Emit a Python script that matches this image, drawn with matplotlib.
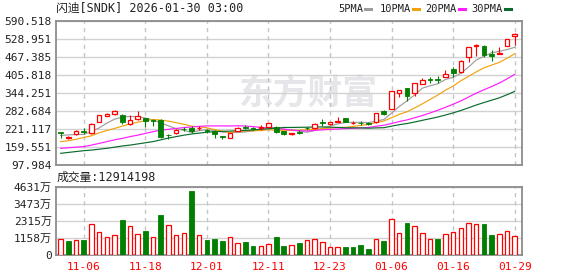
import matplotlib
matplotlib.use("Agg")
import matplotlib.pyplot as plt
from matplotlib.lines import Line2D
import numpy as np

plt.rcParams['font.family'] = ['DejaVu Sans Mono', 'Noto Sans CJK SC']

# ---------------- data ----------------
dates = ['11-03', '11-04', '11-05', '11-06', '11-07', '11-10', '11-11', '11-12', '11-13', '11-14',
         '11-17', '11-18', '11-19', '11-20', '11-21', '11-24', '11-25', '11-26', '11-28', '12-01',
         '12-02', '12-03', '12-04', '12-05', '12-08', '12-09', '12-10', '12-11', '12-12', '12-15',
         '12-16', '12-17', '12-18', '12-19', '12-22', '12-23', '12-24', '12-26', '12-29', '12-30',
         '12-31', '01-02', '01-05', '01-06', '01-07', '01-08', '01-09', '01-12', '01-13', '01-14',
         '01-15', '01-16', '01-20', '01-21', '01-22', '01-23', '01-26', '01-27', '01-28', '01-29']

opens = [209, 190, 203, 213, 206, 246, 266, 272, 269, 237,
         254, 258, 252, 252, 202, 206, 222, 226, 223, 218,
         214, 196, 192, 214, 229, 224, 226, 229, 229, 214,
         203, 212, 225, 224, 246, 238, 246, 258, 240, 242,
         241, 245, 282, 291, 343, 361, 343, 376, 392, 391,
         400, 428, 415, 466, 505, 505, 478, 479, 505, 539]
highs = [210, 196, 216, 223, 240, 270, 277, 285, 274, 269,
         283, 260, 254, 254, 204, 220, 229, 231, 233, 220,
         216, 197, 207, 227, 236, 227, 235, 242, 233, 215,
         209, 216, 229, 240, 256, 245, 263, 260, 249, 248,
         244, 277, 286, 351, 356, 362, 379, 396, 399, 402,
         422, 432, 457, 502, 512, 508, 491, 503, 530, 548]
lows = [189, 187, 201, 205, 205, 245, 264, 270, 237, 235,
        252, 229, 231, 191, 186, 204, 214, 208, 216, 208,
        191, 187, 189, 213, 222, 218, 217, 228, 208, 202,
        201, 203, 216, 222, 230, 236, 245, 245, 238, 235,
        236, 243, 268, 289, 332, 318, 335, 374, 380, 380,
        398, 400, 413, 451, 471, 468, 455, 477, 504, 508]
closes = [208, 192, 214, 211, 238, 269, 274, 282, 244, 251,
          267, 248, 250, 195, 200, 218, 220, 215, 225, 214,
          205, 195, 206, 226, 224, 221, 228, 240, 210, 203,
          208, 207, 223, 238, 241, 244, 248, 246, 241, 240,
          239, 276, 272, 350, 354, 335, 377, 388, 390, 389,
          409, 414, 454, 500, 508, 474, 472, 481, 529, 546]
# volume in units of 万 (10k shares)
volumes = [1062, 949, 1017, 1017, 2079, 1537, 1198, 1333, 2373, 1944,
           1401, 1627, 1198, 2712, 2011, 1333, 1492, 4339, 1333, 1017,
           1085, 949, 1198, 814, 881, 610, 610, 723, 1198, 610,
           678, 814, 1017, 1062, 859, 520, 520, 520, 520, 655,
           407, 1062, 949, 2418, 1469, 2170, 1944, 1469, 1062, 1062,
           1401, 1537, 1808, 2147, 2079, 2102, 1333, 1401, 1605, 1291]

ma5 = [199, 201, 202, 203, 212.6, 224.8, 241.2, 254.8, 261.4, 264,
       263.6, 258.4, 252, 242.2, 232, 222.2, 216.6, 209.6, 215.6, 218.4,
       215.8, 210.8, 209, 209.2, 211.2, 214.4, 221, 227.8, 224.6, 220.4,
       217.8, 213.6, 210.2, 215.8, 223.4, 230.6, 238.8, 243.4, 244, 243.8,
       242.8, 248.4, 253.6, 275.4, 298.2, 317.4, 337.6, 360.8, 368.8, 375.8,
       390.6, 398, 411.2, 433.2, 457, 470, 481.6, 487, 492.8, 500.4]
ma10 = [178, 181, 186, 192, 198, 208, 216, 223, 231, 238.3,
        244.2, 249.8, 253.4, 251.8, 248, 242.9, 237.5, 230.8, 228.9, 225.2,
        219, 213.7, 209.3, 212.4, 214.8, 215.1, 215.9, 218.4, 216.9, 215.8,
        216.1, 217.3, 219, 220.2, 221.9, 224.2, 226.2, 226.8, 229.9, 233.6,
        236.7, 243.6, 248.5, 259.7, 271, 280.1, 293, 307.2, 322.1, 337,
        354, 367.8, 386, 401, 416.4, 430.3, 439.8, 449.1, 463, 478.7]
ma20 = [155, 157, 159, 161, 166, 172, 178, 184, 189, 195,
        200, 206, 212, 217, 220, 223, 226, 228, 230, 231.8,
        231.6, 231.8, 231.4, 232.1, 231.4, 229, 226.7, 224.6, 222.9, 220.5,
        217.6, 215.5, 214.2, 216.3, 218.4, 219.7, 221.1, 222.6, 223.4, 224.7,
        226.4, 230.5, 233.8, 240, 246.5, 252.2, 259.6, 267, 276, 285.3,
        295.4, 305.7, 317.3, 330.4, 343.7, 355.2, 366.4, 378.2, 392.6, 407.9]
ma30 = [138, 141, 144, 147, 149, 152, 155, 159, 163, 166,
        170, 174, 178, 184, 190, 195, 200, 204, 207, 210,
        212, 213, 214, 215, 216, 218, 220, 222, 224, 226.4,
        226.4, 226.9, 227.2, 228.1, 228.2, 227.4, 226.5, 225.3, 225.2, 224.9,
        223.9, 224.9, 225.6, 230.8, 235.9, 239.8, 245, 250.8, 256.3, 262.1,
        268.9, 276.2, 284.5, 293.6, 303.1, 311.5, 319.7, 327.7, 338.3, 349.8]

price_ticks = [97.984, 159.551, 221.117, 282.684, 344.251, 405.818, 467.385, 528.951, 590.518]
price_tick_labels = ['97.984', '159.551', '221.117', '282.684', '344.251',
                     '405.818', '467.385', '528.951', '590.518']
vol_ticks = [0, 1158, 2315, 3473, 4631]
vol_tick_labels = ['0', '1158万', '2315万', '3473万', '4631万']
date_ticks = ['11-06', '11-18', '12-01', '12-11', '12-23', '01-06', '01-16', '01-29']
title = '闪迪[SNDK] 2026-01-30 03:00'
vol_label = '成交量:12914198'
ma_names = ['5PMA', '10PMA', '20PMA', '30PMA']

# ---------------- style ----------------
RED = '#ff0000'
GREEN = '#007f00'
MA_COLORS = ['#9d9d9d', '#f2a20c', '#ff1aff', '#0b6b2e']
GRID = '#d2d2d2'
SPINE = '#8c8c8c'
TXT = '#222222'

W, H = 578, 276
fig = plt.figure(figsize=(W / 100, H / 100), dpi=100)


def px_axes(l, t, r, b):
    return fig.add_axes([l / W, 1 - b / H, (r - l) / W, (b - t) / H])


ax = px_axes(56, 21, 522, 165)
axv = px_axes(56, 187, 522, 255)

x = np.arange(len(dates))
o = np.array(opens, float)
c = np.array(closes, float)
h = np.array(highs, float)
l = np.array(lows, float)
v = np.array(volumes, float)
up = c > o
body_lo = np.minimum(o, c)
body_hi = np.maximum(o, c)
min_h = (price_ticks[-1] - price_ticks[0]) / 144 * 0.6
body_h = np.maximum(body_hi - body_lo, min_h)
tick_pos = [dates.index(d) for d in date_ticks]
xlim = (-0.61, len(dates) - 0.05)

for a in (ax, axv):
    a.set_xlim(*xlim)
    for s in a.spines.values():
        s.set_color(SPINE)
        s.set_linewidth(1.3)
    for p in tick_pos:
        a.axvline(p, color='#c4c4c4', lw=1, ls=(0, (3, 3)), zorder=1)
    a.set_xticks(tick_pos)
    a.tick_params(length=0, labelsize=8, colors=TXT, pad=3)
    a.yaxis.grid(True, color=GRID, lw=1)
    a.set_axisbelow(True)

# watermark
ax.text(0.392, 0.5, '东方财富', transform=ax.transAxes, fontsize=25, fontweight='bold',
        color='#e6e6ea', va='center', ha='left', family='Noto Sans CJK SC', zorder=0.5)

# moving averages
for ma, col in zip([ma5, ma10, ma20, ma30], MA_COLORS):
    ax.plot(x, ma, color=col, lw=0.85, zorder=2)

# candles
ax.vlines(x[up], l[up], body_lo[up], color=RED, lw=0.8, zorder=4)
ax.vlines(x[up], body_hi[up], h[up], color=RED, lw=0.8, zorder=4)
ax.bar(x[up], body_h[up], bottom=body_lo[up], width=0.58, facecolor='white',
       edgecolor=RED, linewidth=0.9, zorder=4)
ax.vlines(x[~up], l[~up], h[~up], color=GREEN, lw=0.8, zorder=4)
ax.bar(x[~up], body_h[~up], bottom=body_lo[~up], width=0.62, facecolor=GREEN,
       edgecolor=GREEN, linewidth=0.6, zorder=4)

ax.set_ylim(price_ticks[0], price_ticks[-1])
ax.set_yticks(price_ticks, price_tick_labels)
ax.tick_params(axis='x', labelbottom=False)

# volume
prev = np.r_[c[0], c[:-1]]
vup = c >= prev
axv.bar(x[vup], v[vup], width=0.58, facecolor='white', edgecolor=RED, linewidth=0.9, zorder=3)
axv.bar(x[~vup], v[~vup], width=0.62, facecolor=GREEN, edgecolor=GREEN, linewidth=0.6, zorder=3)
axv.set_ylim(vol_ticks[0], vol_ticks[-1])
axv.set_yticks(vol_ticks, vol_tick_labels)
axv.set_xticks(tick_pos, date_ticks)
axv.tick_params(axis='x', colors=RED, labelsize=8, pad=5)

# texts
fig.text(56 / W, 1 - 8.5 / H, title, ha='left', va='center', fontsize=8.5, color=TXT)
fig.text(57 / W, 1 - 177 / H, vol_label, ha='left', va='center', fontsize=8.5, color=TXT)

leg_x = [338, 380, 425, 471]
dash_x = [365, 413, 459, 505]
for name, tx, dx, col in zip(ma_names, leg_x, dash_x, MA_COLORS):
    fig.text(tx / W, 1 - 9 / H, name, ha='left', va='center', fontsize=7.5, color=TXT)
    fig.add_artist(Line2D([dx / W, (dx + 6) / W], [1 - 9 / H, 1 - 9 / H], color=col, lw=2.2,
                          transform=fig.transFigure))

fig.savefig('out.png', dpi=100)
